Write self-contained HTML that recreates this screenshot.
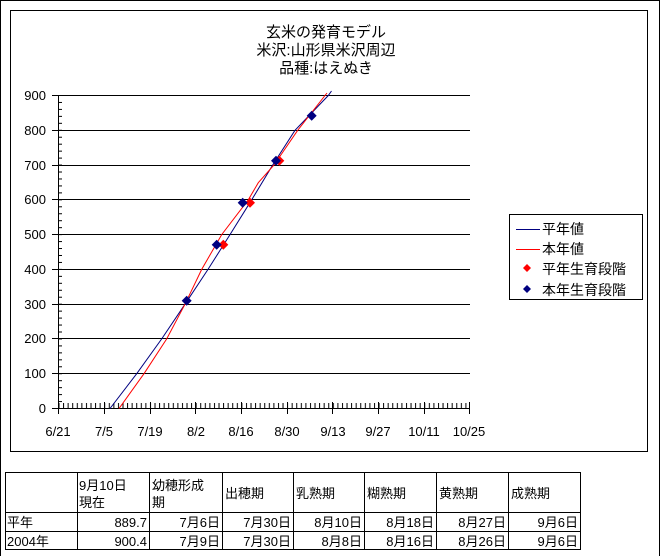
<!DOCTYPE html>
<html><head><meta charset="utf-8"><style>
body{margin:0;background:#fff;}
svg{display:block;font-family:"Liberation Sans","Noto Sans CJK JP",sans-serif;}
</style></head><body>
<svg width="660" height="556" viewBox="0 0 660 556" xmlns="http://www.w3.org/2000/svg">
<defs>
<pattern id="mx" patternUnits="userSpaceOnUse" x="58.5" y="0" width="4.572" height="556"><line x1="0.5" y1="0" x2="0.5" y2="556" stroke="#000"/></pattern>
<pattern id="my" patternUnits="userSpaceOnUse" x="0" y="95" width="660" height="6.956"><line x1="0" y1="0.5" x2="660" y2="0.5" stroke="#000"/></pattern>
</defs>
<rect x="0.5" y="0.5" width="659" height="556" fill="#fff" stroke="#000"/>
<rect x="10.5" y="10.5" width="637" height="441" fill="#fff" stroke="#000"/>
<g font-size="15" text-anchor="middle" fill="#000">
<text x="326" y="37">玄米の発育モデル</text>
<text x="326" y="55">米沢:山形県米沢周辺</text>
<text x="326" y="73">品種:はえぬき</text>
</g>
<rect x="58" y="403" width="412" height="5" fill="url(#mx)"/>
<rect x="58" y="95" width="4" height="313" fill="url(#my)"/>
<g stroke="#000" stroke-width="1">
<line x1="52" y1="408.5" x2="470" y2="408.5"/>
<line x1="52" y1="373.5" x2="470" y2="373.5"/>
<line x1="52" y1="338.5" x2="470" y2="338.5"/>
<line x1="52" y1="304.5" x2="470" y2="304.5"/>
<line x1="52" y1="269.5" x2="470" y2="269.5"/>
<line x1="52" y1="234.5" x2="470" y2="234.5"/>
<line x1="52" y1="199.5" x2="470" y2="199.5"/>
<line x1="52" y1="165.5" x2="470" y2="165.5"/>
<line x1="52" y1="130.5" x2="470" y2="130.5"/>
<line x1="52" y1="95.5" x2="470" y2="95.5"/>
<line x1="58.5" y1="95" x2="58.5" y2="409"/>
<line x1="58.5" y1="402" x2="58.5" y2="414"/>
<line x1="104.5" y1="402" x2="104.5" y2="414"/>
<line x1="150.5" y1="402" x2="150.5" y2="414"/>
<line x1="195.5" y1="402" x2="195.5" y2="414"/>
<line x1="241.5" y1="402" x2="241.5" y2="414"/>
<line x1="287.5" y1="402" x2="287.5" y2="414"/>
<line x1="332.5" y1="402" x2="332.5" y2="414"/>
<line x1="378.5" y1="402" x2="378.5" y2="414"/>
<line x1="424.5" y1="402" x2="424.5" y2="414"/>
<line x1="469.5" y1="402" x2="469.5" y2="414"/>
</g>
<g font-size="13" fill="#000" text-anchor="end">
<text x="46" y="413">0</text>
<text x="46" y="378">100</text>
<text x="46" y="343">200</text>
<text x="46" y="309">300</text>
<text x="46" y="274">400</text>
<text x="46" y="239">500</text>
<text x="46" y="204">600</text>
<text x="46" y="170">700</text>
<text x="46" y="135">800</text>
<text x="46" y="100">900</text>
</g>
<g font-size="13" fill="#000" text-anchor="middle">
<text x="58" y="436">6/21</text>
<text x="104" y="436">7/5</text>
<text x="150" y="436">7/19</text>
<text x="196" y="436">8/2</text>
<text x="241" y="436">8/16</text>
<text x="287" y="436">8/30</text>
<text x="333" y="436">9/13</text>
<text x="378" y="436">9/27</text>
<text x="424" y="436">10/11</text>
<text x="469" y="436">10/25</text>
</g>
<polyline points="110,408.5 136.7,373.7 161.7,338.9 185,304.2 208,269.4 230,234.6 251.7,199.8 272.7,165 295,130.3 328.3,95.5 331.5,91" fill="none" stroke="#000080"/>
<polyline points="119,408.5 144,373.7 166.7,338.9 185,304.2 201.7,269.4 221.7,234.6 248.3,199.8 258.3,182.7 274,165 297.7,130.3 325,95.5 327,93" fill="none" stroke="#ff0000"/>
<g fill="#ff0000">
<polygon points="223.3,239.7 228.3,244.7 223.3,249.7 218.3,244.7"/>
<polygon points="250,197.7 255,202.7 250,207.7 245,202.7"/>
<polygon points="279.3,155.7 284.3,160.7 279.3,165.7 274.3,160.7"/>
</g>
<g fill="#000080">
<polygon points="186.7,295.7 191.7,300.7 186.7,305.7 181.7,300.7"/>
<polygon points="216.7,239.7 221.7,244.7 216.7,249.7 211.7,244.7"/>
<polygon points="242.7,197.7 247.7,202.7 242.7,207.7 237.7,202.7"/>
<polygon points="276,155.7 281,160.7 276,165.7 271,160.7"/>
<polygon points="311.7,110.7 316.7,115.7 311.7,120.7 306.7,115.7"/>
</g>
<rect x="509.5" y="214.5" width="133" height="85" fill="#fff" stroke="#000"/>
<line x1="516" y1="229.5" x2="540" y2="229.5" stroke="#000080"/>
<line x1="516" y1="249.5" x2="540" y2="249.5" stroke="#ff0000"/>
<polygon points="527,264 531,268 527,272 523,268" fill="#ff0000"/>
<polygon points="527,285 531,289 527,293 523,289" fill="#000080"/>
<g font-size="14" fill="#000">
<text x="542" y="234">平年値</text>
<text x="542" y="254">本年値</text>
<text x="542" y="274">平年生育段階</text>
<text x="542" y="295">本年生育段階</text>
</g>
<g stroke="#000" fill="none">
<rect x="5.5" y="472.5" width="575" height="77"/>
<line x1="5" y1="512.5" x2="581" y2="512.5"/>
<line x1="5" y1="531.5" x2="581" y2="531.5"/>
<line x1="77.5" y1="472" x2="77.5" y2="550"/>
<line x1="149.5" y1="472" x2="149.5" y2="550"/>
<line x1="222.5" y1="472" x2="222.5" y2="550"/>
<line x1="293.5" y1="472" x2="293.5" y2="550"/>
<line x1="364.5" y1="472" x2="364.5" y2="550"/>
<line x1="436.5" y1="472" x2="436.5" y2="550"/>
<line x1="508.5" y1="472" x2="508.5" y2="550"/>
</g>
<g font-size="13" fill="#000">
<text x="79" y="490">9月10日</text><text x="79" y="507">現在</text>
<text x="152" y="490">幼穂形成</text><text x="152" y="507">期</text>
<text x="225" y="498">出穂期</text>
<text x="296" y="498">乳熟期</text>
<text x="367" y="498">糊熟期</text>
<text x="439" y="498">黄熟期</text>
<text x="511" y="498">成熟期</text>
<text x="7" y="527">平年</text>
<text x="7" y="546">2004年</text>
</g>
<g font-size="13" fill="#000" text-anchor="end">
<text x="147" y="527">889.7</text><text x="220" y="527">7月6日</text><text x="291" y="527">7月30日</text><text x="362" y="527">8月10日</text><text x="434" y="527">8月18日</text><text x="506" y="527">8月27日</text><text x="578" y="527">9月6日</text>
<text x="147" y="546">900.4</text><text x="220" y="546">7月9日</text><text x="291" y="546">7月30日</text><text x="362" y="546">8月8日</text><text x="434" y="546">8月16日</text><text x="506" y="546">8月26日</text><text x="578" y="546">9月6日</text>
</g>
</svg>
</body></html>
